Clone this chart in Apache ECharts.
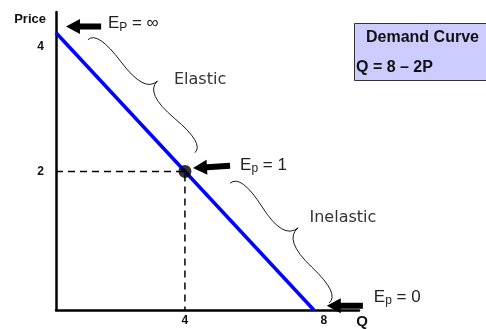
<!DOCTYPE html>
<html>
<head>
<meta charset="utf-8">
<script src="https://cdn.jsdelivr.net/npm/echarts@6/dist/echarts.min.js"></script>
<style>
  html, body { margin: 0; padding: 0; background: #fff; }
  #chart { width: 486px; height: 329px; }
</style>
</head>
<body>
<div id="chart"></div>
<script>
// demand curve Q = 8 - 2P
const demandQ = [0, 8];
const demandP = [4, 0];
// unit elastic point
const unitQ = [4];
const unitP = [2];
// tick labels shown on the axes
const xTickLabels = [4, 8];
const yTickLabels = [2, 4];

const FONT = "'Liberation Sans', Arial, sans-serif";
const GOTHIC = "'DejaVu Sans', sans-serif";
const tickFont = { color: '#111', fontSize: 12, fontWeight: 'bold', fontFamily: FONT };
const chart = echarts.init(document.getElementById('chart'));

chart.setOption({
  animation: false,
  grid: { left: 56, top: 12, right: 127, bottom: 18 },
  xAxis: {
    type: 'value', min: 0, max: 9.4, interval: 1,
    name: 'Q', nameLocation: 'end', nameGap: 3,
    nameTextStyle: { color: '#111', fontSize: 15, fontWeight: 'bold', fontFamily: FONT, align: 'center', verticalAlign: 'top', padding: [4, 0, 0, 0] },
    axisLine: { lineStyle: { color: '#000', width: 2.5 } },
    axisTick: { show: false },
    splitLine: { show: false },
    axisLabel: {
      ...tickFont, margin: 5,
      formatter: v => !xTickLabels.includes(v) ? '' : (v === 8 ? '{r|8}' : String(v)),
      rich: { r: { ...tickFont, padding: [0, 0, 0, 20] } }
    }
  },
  yAxis: {
    type: 'value', min: 0, max: 4.3, interval: 1,
    name: 'Price', nameLocation: 'end', nameGap: 0,
    nameTextStyle: { color: '#111', fontSize: 13, fontWeight: 'bold', fontFamily: FONT, align: 'right', verticalAlign: 'top', padding: [1, 10, 0, 0] },
    axisLine: { lineStyle: { color: '#000', width: 2.5 } },
    axisTick: { show: false },
    splitLine: { show: false },
    axisLabel: {
      ...tickFont, margin: 12,
      formatter: v => !yTickLabels.includes(v) ? '' : (v === 4 ? '{lo|4}' : String(v)),
      rich: { lo: { ...tickFont, padding: [28, 0, 0, 0] } }
    }
  },
  series: [
    {
      type: 'line', symbol: 'none', z: 3,
      data: demandQ.map((q, i) => [q, demandP[i]]),
      lineStyle: { color: '#0000ff', width: 3.5 }
    },
    {
      type: 'line', symbol: 'none', z: 2,
      data: [[0, unitP[0]], [unitQ[0], unitP[0]], [unitQ[0], 0]],
      lineStyle: { color: '#000', width: 1.5, type: [7, 5] }
    },
    {
      type: 'scatter', symbolSize: 13, z: 5,
      data: unitQ.map((q, i) => [q, unitP[i]]),
      itemStyle: { color: '#000' }
    }
  ]
});

// annotations, placed in data coordinates
const px = (q, p) => chart.convertToPixel({ gridIndex: 0 }, [q, p]);

function arrow(tip, tail) {
  const a = px(tip[0], tip[1]), b = px(tail[0], tail[1]);
  const len = Math.hypot(b[0] - a[0], b[1] - a[1]);
  const u = [(b[0] - a[0]) / len, (b[1] - a[1]) / len];
  const v = [-u[1], u[0]];
  const hl = 14, hw = 7.5, sw = 3;
  const at = (s, t) => [a[0] + u[0] * s + v[0] * t, a[1] + u[1] * s + v[1] * t];
  return {
    type: 'polygon', z: 10,
    shape: { points: [at(0, 0), at(hl, hw), at(hl, sw), at(len, sw), at(len, -sw), at(hl, -sw), at(hl, -hw)] },
    style: { fill: '#000' }
  };
}

function brace(start, end, w) {
  const A = px(start[0], start[1]), B = px(end[0], end[1]);
  const len = Math.hypot(B[0] - A[0], B[1] - A[1]);
  const d = [(B[0] - A[0]) / len, (B[1] - A[1]) / len];
  const n = [d[1], -d[0]];
  const q = 0.6;
  const pt = (s, o) => [A[0] + d[0] * len * s + n[0] * w * o, A[1] + d[1] * len * s + n[1] * w * o];
  const cusp = pt(0.5, 1), cMid = pt(0.5, 2 - 3 * q);
  const q1 = pt(0.25, 1 - q), q3 = pt(0.75, 1 - q);
  const seg = (p1, c, p2) => ({
    type: 'bezierCurve', z: 9,
    shape: { x1: p1[0], y1: p1[1], cpx1: c[0], cpy1: c[1], x2: p2[0], y2: p2[1] },
    style: { stroke: '#000', lineWidth: 0.9, fill: null }
  });
  return [
    seg(A, pt(0, q), q1), seg(q1, cMid, cusp),
    seg(B, pt(1, q), q3), seg(q3, cMid, cusp)
  ];
}

function elasText(pos, sub, rest) {
  const p = px(pos[0], pos[1]);
  return {
    type: 'text', z: 10, x: p[0], y: p[1],
    style: {
      text: '{e|E}{s|' + sub + '}{e| = ' + rest + '}',
      verticalAlign: 'middle', align: 'left',
      rich: {
        e: { fontSize: 17, fontFamily: FONT, fill: '#222', lineHeight: 20 },
        s: { fontSize: 12, fontFamily: FONT, fill: '#222', lineHeight: 12, verticalAlign: 'bottom' }
      }
    }
  };
}

function plainText(pos, str) {
  const p = px(pos[0], pos[1]);
  return {
    type: 'text', z: 10, x: p[0], y: p[1],
    style: { text: str, fontSize: 16, fontFamily: GOTHIC, fill: '#333', align: 'center', verticalAlign: 'middle' }
  };
}

const graphics = [
  arrow([0.31, 4.09], [1.40, 4.09]),
  arrow([4.25, 2.05], [5.40, 2.08]),
  arrow([8.40, 0.06], [9.52, 0.06]),
  elasText([1.61, 4.13], 'P', '∞'),
  elasText([5.71, 2.09], 'p', '1'),
  elasText([9.86, 0.19], 'p', '0'),
  plainText([4.47, 3.32], 'Elastic'),
  plainText([8.90, 1.33], 'Inelastic'),
  ...brace([0.99, 3.90], [4.31, 2.27], 22),
  ...brace([5.40, 1.83], [8.47, 0.10], 24),
  {
    type: 'rect', z: 10, left: 354, top: 23,
    shape: { width: 140, height: 57 },
    style: { fill: '#ccccff', stroke: '#333', lineWidth: 1 }
  },
  {
    type: 'text', z: 11, left: 366, top: 30,
    style: { text: 'Demand Curve', fontSize: 16, fontWeight: 'bold', fontFamily: FONT, fill: '#111' }
  },
  {
    type: 'text', z: 11, left: 356, top: 60,
    style: { text: 'Q = 8 – 2P', fontSize: 16, fontWeight: 'bold', fontFamily: FONT, fill: '#111' }
  }
];

chart.setOption({ graphic: graphics });
</script>
</body>
</html>
